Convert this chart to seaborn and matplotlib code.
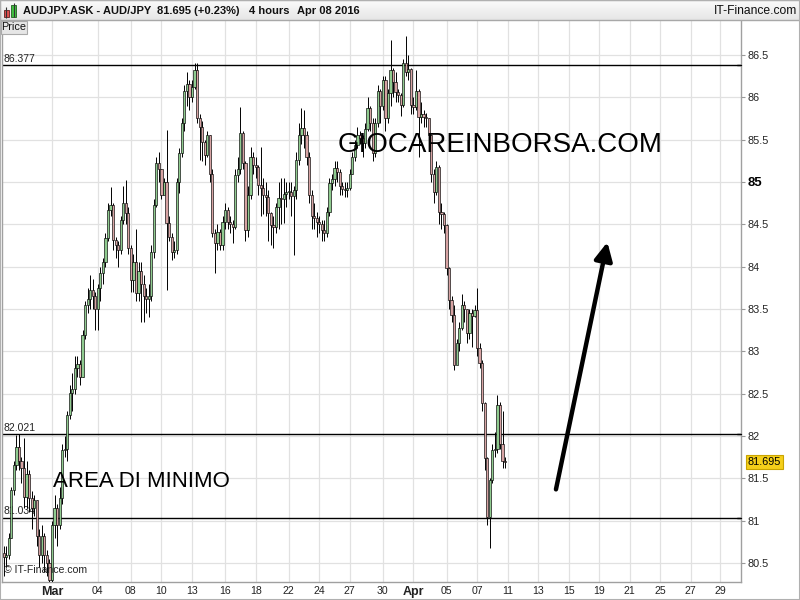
import numpy as np
import matplotlib
matplotlib.use("Agg")
import matplotlib.pyplot as plt
import matplotlib.transforms as mtransforms
from matplotlib.patches import Rectangle
import seaborn as sns

# ---------------- data (AUD/JPY, 4-hour candles, Feb 25 - Apr 08 2016) ----------------
first_open = 80.62
closes = (
    [80.57, 80.60, 80.80, 81.36, 81.66, 81.87] +   # Thu Feb 25
    [81.70, 81.62, 81.28, 81.55, 81.27, 81.15] +   # Fri Feb 26
    [81.25] +                                      # Sun Feb 28
    [80.82, 80.60, 80.82, 80.60, 80.50, 80.30] +   # Mon Feb 29
    [80.95, 81.15, 80.95, 81.27, 81.83, 81.85] +   # Tue Mar 01
    [82.25, 82.51, 82.55, 82.80, 82.85, 82.70] +   # Wed Mar 02
    [83.19, 83.55, 83.62, 83.72, 83.65, 83.50] +   # Thu Mar 03
    [83.75, 83.92, 84.05, 84.34, 84.67, 84.73] +   # Fri Mar 04
    [84.31] +                                      # Sun Mar 06
    [84.25, 84.20, 84.55, 84.75, 84.63, 84.22] +   # Mon Mar 07
    [83.84, 84.05, 83.69, 83.95, 83.80, 83.65] +   # Tue Mar 08
    [83.62, 83.65, 84.17, 84.73, 85.22, 85.15] +   # Wed Mar 09
    [84.85, 85.00, 84.52, 84.35, 84.17, 84.20] +   # Thu Mar 10
    [85.00, 85.34, 85.70, 86.08, 86.16, 86.00] +   # Fri Mar 11
    [86.12] +                                      # Sun Mar 13
    [86.32, 85.75, 85.65, 85.47, 85.32, 85.55] +   # Mon Mar 14
    [85.10, 84.40, 84.28, 84.41, 84.26, 84.53] +   # Tue Mar 15
    [84.67, 84.53, 84.50, 84.47, 85.08, 85.15] +   # Wed Mar 16
    [85.58, 85.22, 84.43, 84.85, 85.29, 85.20] +   # Thu Mar 17
    [85.18, 84.96, 84.93, 84.85, 84.82, 84.63] +   # Fri Mar 18
    [84.49] +                                      # Sun Mar 20
    [84.47, 84.70, 84.81, 84.80, 84.86, 84.88] +   # Mon Mar 21
    [84.88, 84.84, 84.90, 85.26, 85.55, 85.64] +   # Tue Mar 22
    [85.55, 85.30, 84.85, 84.60, 84.58, 84.53] +   # Wed Mar 23
    [84.50, 84.43, 84.40, 84.65, 84.99, 85.03] +   # Thu Mar 24
    [85.17, 85.12, 84.95, 84.92, 84.90, 84.93] +   # Fri Mar 25
    [85.10] +                                      # Sun Mar 27
    [85.30, 85.44, 85.56, 85.52, 85.46, 85.62] +   # Mon Mar 28
    [85.87, 85.70, 85.34, 85.70, 86.08, 85.90] +   # Tue Mar 29
    [86.20, 85.75, 86.05, 86.32, 86.18, 86.06] +   # Wed Mar 30
    [86.03, 85.91, 86.40, 86.30, 86.33, 85.91] +   # Thu Mar 31
    [85.89, 86.08, 85.77, 85.80, 85.77, 85.75] +   # Fri Apr 01
    [85.55] +                                      # Sun Apr 03
    [85.10, 84.88, 85.18, 84.65, 84.62, 84.49] +   # Mon Apr 04
    [83.98, 83.61, 83.43, 82.84, 83.10, 83.28] +   # Tue Apr 05
    [83.55, 83.50, 83.22, 83.45, 83.42, 83.49] +   # Wed Apr 06
    [83.04, 82.86, 82.39, 81.74, 81.04, 81.48] +   # Thu Apr 07
    [81.83, 81.85, 82.37, 81.90, 81.70, 81.695]    # Fri Apr 08
)
highs = (
    [80.70, 80.70, 80.85, 81.40, 81.70, 82.01] +
    [82.02, 81.75, 81.98, 81.70, 81.60, 81.35] +
    [81.30] +
    [81.25, 80.90, 80.95, 80.85, 80.65, 80.55] +
    [81.00, 81.30, 81.20, 81.40, 81.90, 82.00] +
    [82.30, 82.60, 82.75, 82.95, 82.95, 82.90] +
    [83.25, 83.60, 83.75, 83.90, 83.85, 83.70] +
    [83.80, 84.00, 84.10, 84.40, 84.75, 84.94] +
    [84.75] +
    [84.35, 84.30, 84.60, 84.95, 85.02, 84.70] +
    [84.25, 84.15, 84.45, 84.05, 84.05, 83.90] +
    [83.75, 83.80, 84.25, 84.80, 85.30, 85.35] +
    [85.15, 85.05, 85.61, 84.60, 84.40, 84.30] +
    [85.05, 85.40, 85.75, 86.15, 86.30, 86.20] +
    [86.20] +
    [86.40, 86.40, 85.80, 85.72, 85.50, 85.60] +
    [85.55, 85.15, 84.45, 84.50, 84.45, 84.60] +
    [84.75, 84.70, 84.60, 84.55, 85.15, 85.30] +
    [85.89, 85.60, 85.25, 84.95, 85.41, 85.35] +
    [85.30, 85.20, 85.41, 85.05, 85.00, 84.90] +
    [84.65] +
    [84.60, 84.75, 85.00, 85.05, 85.05, 85.00] +
    [85.00, 85.00, 84.95, 85.35, 85.70, 85.87] +
    [85.85, 85.60, 85.35, 84.90, 84.75, 84.65] +
    [84.60, 84.55, 84.55, 84.70, 85.05, 85.10] +
    [85.25, 85.25, 85.15, 85.00, 85.00, 85.00] +
    [85.15] +
    [85.35, 85.50, 85.65, 85.60, 85.55, 85.70] +
    [86.00, 85.90, 85.75, 85.75, 86.15, 86.10] +
    [86.25, 86.25, 86.10, 86.68, 86.35, 86.30] +
    [86.10, 86.05, 86.45, 86.72, 86.50, 86.35] +
    [86.00, 86.32, 86.10, 85.95, 85.85, 85.82] +
    [85.75] +
    [85.55, 85.15, 85.25, 85.20, 84.75, 84.65] +
    [84.50, 84.00, 83.65, 83.55, 83.15, 83.35] +
    [83.68, 83.60, 83.50, 83.50, 83.50, 83.55] +
    [83.75, 83.10, 82.90, 82.40, 81.75, 81.50] +
    [81.90, 82.05, 82.48, 82.40, 82.30, 81.75]
)
lows = (
    [80.35, 80.45, 80.55, 80.80, 81.30, 81.60] +
    [81.60, 81.45, 81.15, 81.15, 81.10, 80.90] +
    [81.05] +
    [80.70, 80.45, 80.50, 80.40, 80.35, 80.20] +
    [80.25, 80.80, 80.70, 80.90, 81.20, 81.75] +
    [81.70, 82.20, 82.30, 82.50, 82.70, 82.60] +
    [82.70, 83.15, 83.45, 83.50, 83.50, 83.25] +
    [83.25, 83.60, 83.80, 84.00, 84.30, 84.60] +
    [84.20] +
    [84.10, 84.00, 84.15, 84.50, 84.50, 84.15] +
    [83.70, 83.70, 83.60, 83.60, 83.35, 83.35] +
    [83.45, 83.40, 83.60, 84.10, 84.70, 85.00] +
    [84.80, 84.90, 83.72, 84.30, 84.08, 84.10] +
    [84.15, 84.87, 85.30, 85.60, 85.90, 85.85] +
    [85.95] +
    [86.10, 85.70, 85.26, 85.25, 85.20, 85.30] +
    [85.00, 84.35, 83.93, 84.20, 84.20, 84.20] +
    [84.45, 84.45, 84.40, 84.28, 84.45, 85.00] +
    [85.10, 85.15, 84.30, 84.35, 84.80, 85.10] +
    [85.05, 84.85, 84.60, 84.62, 84.60, 84.30] +
    [84.25] +
    [84.22, 84.40, 84.45, 84.50, 84.51, 84.70] +
    [84.80, 84.60, 84.14, 84.80, 85.20, 85.45] +
    [85.40, 85.20, 84.75, 84.45, 84.45, 84.35] +
    [84.40, 84.30, 84.30, 84.35, 84.60, 84.90] +
    [84.95, 85.00, 84.85, 84.85, 84.82, 84.82] +
    [84.90] +
    [85.10, 85.25, 85.40, 85.45, 85.30, 85.40] +
    [85.60, 85.60, 85.25, 85.30, 85.65, 85.70] +
    [85.85, 85.60, 85.70, 85.90, 86.00, 85.95] +
    [85.95, 85.78, 85.88, 86.25, 86.20, 85.80] +
    [85.80, 85.85, 85.30, 85.70, 85.65, 85.65] +
    [85.50] +
    [85.00, 84.75, 84.85, 84.50, 84.45, 84.40] +
    [83.90, 83.50, 83.35, 82.78, 82.85, 83.00] +
    [83.25, 83.35, 83.10, 83.15, 83.05, 83.40] +
    [82.95, 82.80, 82.30, 81.60, 80.95, 80.68] +
    [81.45, 81.75, 81.80, 81.85, 81.62, 81.62]
)

tick_labels = ["Mar", "04", "08", "10", "13", "16", "18", "22", "24", "27", "30",
               "Apr", "05", "07", "11", "13", "15", "19", "21", "25", "27", "29"]
tick_pos = [19, 37, 50, 62, 74, 87, 99, 112, 124, 136, 149,
            161, 174, 186, 198, 210, 222, 234, 246, 258, 270, 281.5]

levels = [86.377, 82.021, 81.034]
last_price = 81.695
title_parts = ["AUDJPY.ASK - AUD/JPY", "81.695 (+0.23%)", "4 hours", "Apr 08 2016"]

# ---------------- styling ----------------
sns.set_theme(style="white")
plt.rcParams['font.family'] = ['Liberation Sans', 'DejaVu Sans']

UP = "#8fcb8f"
DN = "#d7a3a3"
GRID = "#e1e1e1"
W, H = 800, 600

fig = plt.figure(figsize=(8, 6), dpi=100)
fig.patch.set_facecolor("white")

def fx(px):
    return px / W

def fy(py):
    return 1 - py / H

ax = fig.add_axes([fx(2), fy(582), (741 - 2) / W, (582 - 20) / H])
ax.set_facecolor("white")

c = np.array(closes)
o = np.array([first_open] + closes[:-1])
hi = np.array(highs)
lo = np.array(lows)
x = np.arange(len(c))
up = c >= o

ax.vlines(x, lo, hi, color="black", lw=0.7, zorder=3)
body_bottom = np.minimum(o, c)
body_h = np.maximum(np.abs(c - o), 0.012)
ax.bar(x, body_h, bottom=body_bottom, width=0.88,
       color=np.where(up, UP, DN), edgecolor="black", linewidth=0.45, zorder=4)

for lvl in levels:
    ax.axhline(lvl, color="black", lw=1.0, zorder=2)

ax.set_xlim(-0.65, 289.7)
ax.set_ylim(80.276, 86.913)

yt = np.arange(80.5, 86.51, 0.5)
ax.set_yticks(yt)
ax.set_yticklabels([f"{v:g}" for v in yt])
ax.yaxis.tick_right()
ax.tick_params(axis="y", direction="out", length=3, width=0.8, color="#999999",
               labelsize=7.8, labelcolor="#222222", pad=2, right=True, left=False)
for lab in ax.get_yticklabels():
    if lab.get_text() == "85":
        lab.set_fontweight("bold")
        lab.set_fontsize(9.5)
        lab.set_color("black")

ax.set_xticks(tick_pos)
ax.set_xticklabels(tick_labels)
ax.tick_params(axis="x", length=0, labelsize=7.6, labelcolor="#222222", pad=3)
for lab in ax.get_xticklabels():
    if lab.get_text() in ("Mar", "Apr"):
        lab.set_fontweight("bold")
        lab.set_fontsize(9)

ax.grid(True, color=GRID, lw=0.9)
ax.set_axisbelow(True)
for side in ("left", "bottom", "right"):
    ax.spines[side].set_visible(True)
    ax.spines[side].set_color("#a0a0a0")
    ax.spines[side].set_linewidth(1.0)
ax.spines["top"].set_visible(False)

blend = mtransforms.blended_transform_factory(ax.transAxes, ax.transData)
for lvl in levels:
    ax.text(0.002, lvl + 0.02, f"{lvl:.3f}", transform=blend, ha="left", va="bottom",
            fontsize=7.5, color="#222222", zorder=1)
    ax.plot([0.995, 1.0], [lvl, lvl], transform=blend, color="black", lw=1.0,
            clip_on=False, zorder=6)

ax.text(1.009, last_price, f"{last_price:.3f}", transform=blend, ha="left", va="center",
        fontsize=7.8, color="black",
        bbox=dict(boxstyle="square,pad=0.18", fc="#f5cf1a", ec="#c9a400", lw=0.8),
        clip_on=False, zorder=7)

# annotations
ax.text(195, 85.44, "GIOCAREINBORSA.COM", ha="center", va="center", fontsize=20,
        color="black", zorder=8)
ax.text(54.0, 81.46, "AREA DI MINIMO", ha="center", va="center", fontsize=16,
        color="black", zorder=8)
ax.annotate("", xy=(237.2, 84.29), xytext=(217.0, 81.37),
            arrowprops=dict(arrowstyle="-|>,head_length=0.9,head_width=0.45",
                            lw=3.2, color="black", shrinkA=0, shrinkB=0),
            zorder=8)
ax.text(0.003, 0.012, "© IT-Finance.com", transform=ax.transAxes, ha="left", va="bottom",
        fontsize=7.6, color="#222222", zorder=9)

# ---------------- header bar ----------------
hax = fig.add_axes([0, fy(20), 1, 20 / H])
grad = np.linspace(0.985, 0.90, 50).reshape(-1, 1)
hax.imshow(np.dstack([grad, grad, grad]), aspect="auto", extent=[0, W, 20, 0])
hax.set_xlim(0, W)
hax.set_ylim(20, 0)
hax.set_xticks([])
hax.set_yticks([])
for s in hax.spines.values():
    s.set_color("#a8a8a8")
    s.set_linewidth(1)
# small candle icon
hax.vlines([6, 13.5], [7, 3], [18, 17], color="#333333", lw=0.8)
hax.add_patch(Rectangle((3.5, 10), 5, 6.5, fc="#e05050", ec="#602020", lw=0.6))
hax.add_patch(Rectangle((11, 5), 5, 11.5, fc="#40c040", ec="#206020", lw=0.6))

xs = [23, 157, 249, 297]
for xp, t in zip(xs, title_parts):
    hax.text(xp, 11, t, ha="left", va="center", fontsize=8, fontweight="bold", color="#111111")
hax.text(797, 11, "IT-Finance.com", ha="right", va="center", fontsize=8.7, color="#111111")

# "Price" tab
fig.patches.append(Rectangle((fx(1), fy(34)), 26 / W, 13 / H, transform=fig.transFigure,
                             fc="#e6e6e6", ec="#aaaaaa", lw=0.8, zorder=10))
fig.text(fx(14), fy(27.5), "Price", ha="center", va="center", fontsize=7.8,
         color="#111111", zorder=11)

# outer frame
fig.patches.append(Rectangle((0, 0), 1, 1, transform=fig.transFigure, fill=False,
                             ec="#b0b0b0", lw=1.5, zorder=12))

fig.savefig("out.png", dpi=100)
